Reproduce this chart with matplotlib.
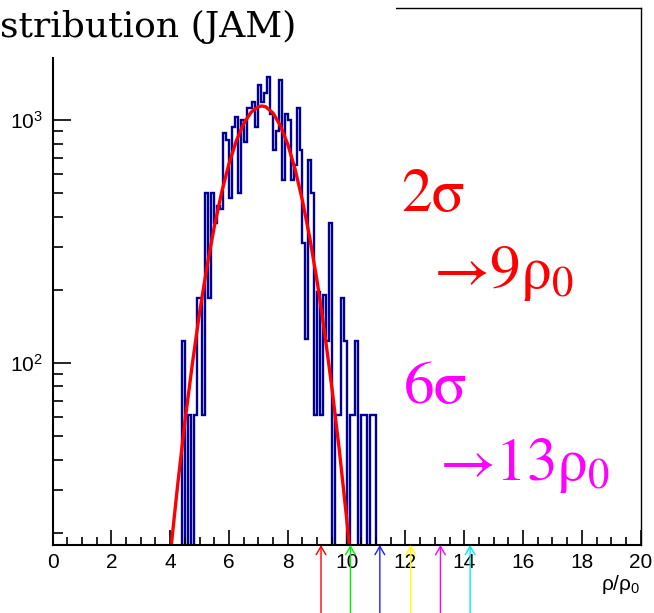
import numpy as np
import matplotlib
matplotlib.use("Agg")
import matplotlib.pyplot as plt
from matplotlib.patches import Rectangle
from matplotlib.ticker import LogLocator, MultipleLocator, NullFormatter

plt.rcParams["font.family"] = ["Liberation Sans", "DejaVu Sans"]

# histogram of rho/rho0, bins of 0.1 starting at 4.3
bin_start = 4.3
bin_width = 0.1
counts = [0, 123, 0, 61, 0, 61, 185, 185, 61, 500,
          185, 500, 377, 443, 430, 885, 830, 476, 939, 1025,
          500, 1000, 814, 1117, 1117, 1190, 939, 1393, 1190, 1290,
          1507, 1060, 753, 900, 1460, 565, 1060, 1000, 565, 650,
          1117, 753, 311, 125, 685, 500, 61, 195, 61, 190,
          123, 376, 0, 61, 61, 185, 123, 0, 61, 61,
          123, 0, 61, 61, 0, 61, 61, 0]

# gaussian fit
fit_x = [4.0, 4.25, 4.5, 4.75, 5.0, 5.25, 5.5, 5.75, 6.0, 6.25, 6.5, 6.75, 7.0, 7.12,
         7.25, 7.5, 7.75, 8.0, 8.25, 8.5, 8.75, 9.0, 9.25, 9.5, 9.75, 10.0, 10.25]
fit_y = [16, 31, 57, 98, 161, 248, 363, 503, 660, 821, 966, 1076, 1135, 1142,
         1133, 1067, 947, 794, 626, 465, 326, 216, 134, 79, 44, 23, 11]

# arrows under the axis
arrow_x = [9.13, 10.13, 11.13, 12.18, 13.19, 14.2]
arrow_colors = ["#ff0000", "#00ee00", "#2020ff", "#ffff00", "#ff00ff", "#00eeee"]

W, H = 654, 613
fig = plt.figure(figsize=(W / 100, H / 100), dpi=100)
ax = fig.add_axes([52.5 / W, 1 - 545 / H, 588.2 / W, 537 / H])

edges = bin_start + bin_width * np.arange(len(counts) + 1)
vals = np.where(np.array(counts) > 0, counts, 1.0)
ax.stairs(vals, edges, baseline=None, color="#000099", lw=1.7)
ax.plot(fit_x, fit_y, color="#ff0000", lw=2.4)

ax.set_yscale("log")
ax.set_xlim(0, 20)
ax.set_ylim(17.8, 2890)

ax.xaxis.set_major_locator(MultipleLocator(2))
ax.xaxis.set_minor_locator(MultipleLocator(0.5))
ax.yaxis.set_major_locator(LogLocator(base=10))
ax.yaxis.set_minor_locator(LogLocator(base=10, subs=np.arange(2, 10)))
ax.yaxis.set_minor_formatter(NullFormatter())
ax.tick_params(axis="both", which="both", direction="in", top=False, right=False,
               labelsize=15, width=1.2)
ax.tick_params(axis="x", which="major", length=11, pad=6)
ax.tick_params(axis="x", which="minor", length=6)
ax.tick_params(axis="y", which="major", length=13, pad=7)
ax.tick_params(axis="y", which="minor", length=7)

for side in ["left", "bottom"]:
    ax.spines[side].set_linewidth(1.5)
for side in ["top", "right"]:
    ax.spines[side].set_linewidth(1.0)

for x, c in zip(arrow_x, arrow_colors):
    ax.annotate("", xy=(x, 0), xycoords=("data", "axes fraction"),
                xytext=(x, -0.13), textcoords=("data", "axes fraction"),
                arrowprops=dict(arrowstyle="->,head_length=0.6,head_width=0.35",
                                color=c, lw=1.0, shrinkA=0, shrinkB=0),
                annotation_clip=False)

fig.text(640 / W, 1 - 590 / H, r"$\mathregular{ρ/ρ_0}$", ha="right", va="baseline",
         fontsize=15, family="Liberation Sans")

# annotations
serif = "STIXGeneral"
fig.text(401 / W, 1 - 211 / H, "2σ", color="#ff0000", fontsize=44, family=serif,
         va="baseline")
fig.text(433 / W, 1 - 288 / H, r"→9$\mathregular{ρ_0}$", color="#ff0000", fontsize=44,
         family=serif, va="baseline")
fig.text(404 / W, 1 - 403 / H, "6σ", color="#ff00ff", fontsize=44, family=serif,
         va="baseline")
fig.text(439 / W, 1 - 480 / H, r"→13$\mathregular{ρ_0}$", color="#ff00ff", fontsize=44,
         family=serif, va="baseline")

# title box (cropped slide title)
fig.patches.append(Rectangle((0, 1 - 57 / H), 396 / W, 57 / H, transform=fig.transFigure,
                             facecolor="white", edgecolor="none", zorder=5))
fig.text(0, 1 - 37 / H, "stribution (JAM)", fontsize=26, family="DejaVu Serif",
         va="baseline", zorder=6)

fig.savefig("out.png", dpi=100)
